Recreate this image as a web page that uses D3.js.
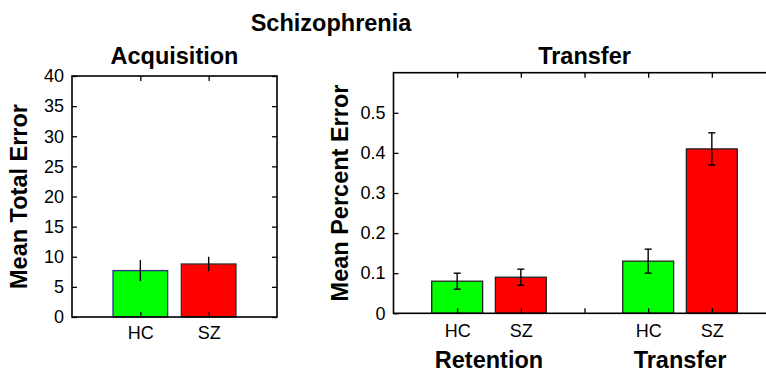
<!DOCTYPE html>
<html>
<head>
<meta charset="utf-8">
<script src="https://cdn.jsdelivr.net/npm/d3@7"></script>
<style>
  body { margin: 0; background: #fff; }
  svg { display: block; font-family: Arial, "Liberation Sans", sans-serif; }
  .tick text { font-size: 18px; fill: #000; }
  .tick line { stroke: #000; stroke-width: 1.3; }
  .lbl { font-weight: bold; font-size: 23.5px; fill: #000; }
</style>
</head>
<body>
<svg id="chart" width="766" height="372"></svg>
<script>
// acquisition panel
const acqGroups = ["HC", "SZ"];
const acqMeans = [7.7, 8.8];
const acqErr = [1.75, 1.2];
const acqTicks = [0, 5, 10, 15, 20, 25, 30, 35, 40];

// retention / transfer panel (slot 3 is the empty spacer bar)
const trGroups = ["HC", "SZ", "", "HC", "SZ"];
const trMeans = [0.08, 0.09, 0, 0.13, 0.41];
const trErr = [0.02, 0.02, 0, 0.03, 0.04];
const trTicks = [0, 0.1, 0.2, 0.3, 0.4, 0.5];
const trPhases = ["Retention", "Transfer"];
const trPhasePos = [1.5, 4.5];

const colourOf = g => g === "HC" ? "#00ff00" : "#ff0000";

const svg = d3.select("#chart");

svg.append("text").attr("class", "lbl")
    .attr("x", 331).attr("y", 31)
    .attr("text-anchor", "middle")
    .text("Schizophrenia");

const drawPanel = (parent, opts) => {
    const {left, right, top, bottom, xMax, yMax, groups, means, errs, ticks, title, yLabel, yLabelX, caps, labelPad, tickFmt} = opts;

    const x = d3.scaleLinear().domain([0, xMax]).range([left, right]);
    const y = d3.scaleLinear().domain([0, yMax]).range([bottom, top]);
    const bw = (x(1) - x(0)) * 0.8;
    const g = parent.append("g");

    // bars
    g.selectAll("rect.bar")
        .data(means)
        .join("rect")
            .attr("class", "bar")
            .attr("x", (d, i) => x(i + 1) - bw / 2)
            .attr("y", d => y(d))
            .attr("width", bw)
            .attr("height", d => y(0) - y(d))
            .attr("fill", (d, i) => groups[i] ? colourOf(groups[i]) : "none")
            .attr("stroke", (d, i) => opts.edge ? opts.edge(i) : "#222")
            .attr("stroke-width", (d, i) => groups[i] ? 1.3 : 2.2);

    // error bars
    const eb = g.selectAll("g.err")
        .data(means.map((m, i) => ({m, e: errs[i], i})).filter(d => d.e > 0))
        .join("g").attr("class", "err");
    eb.append("line")
        .attr("x1", d => x(d.i + 1)).attr("x2", d => x(d.i + 1))
        .attr("y1", d => y(d.m + d.e)).attr("y2", d => y(d.m - d.e))
        .attr("stroke", "#000").attr("stroke-width", 1.4);
    if (caps) {
        [1, -1].forEach(s => {
            eb.append("line")
                .attr("x1", d => x(d.i + 1) - 3.5).attr("x2", d => x(d.i + 1) + 3.5)
                .attr("y1", d => y(d.m + s * d.e)).attr("y2", d => y(d.m + s * d.e))
                .attr("stroke", "#000").attr("stroke-width", 1.4);
        });
    }

    // axes
    const pos = groups.map((d, i) => i + 1);
    g.append("g").attr("transform", `translate(${left},0)`)
        .call(d3.axisLeft(y).tickValues(ticks).tickSize(-5).tickPadding(8).tickFormat(tickFmt));
    g.append("g").attr("transform", `translate(${right},0)`)
        .call(d3.axisRight(y).tickValues(ticks).tickSize(-5).tickFormat(""));
    g.append("g").attr("transform", `translate(0,${bottom})`)
        .call(d3.axisBottom(x).tickValues(pos).tickSize(-5).tickPadding(labelPad).tickFormat((d, i) => groups[i]));
    g.append("g").attr("transform", `translate(0,${top})`)
        .call(d3.axisTop(x).tickValues(pos).tickSize(-5).tickFormat(""));
    g.selectAll(".domain").remove();
    g.selectAll(".tick text").attr("font-family", null).attr("font-size", null);

    // frame
    g.append("rect")
        .attr("x", left).attr("y", top)
        .attr("width", right - left).attr("height", bottom - top)
        .attr("fill", "none").attr("stroke", "#000").attr("stroke-width", 1.6);

    g.append("text").attr("class", "lbl")
        .attr("x", (left + right) / 2).attr("y", 64)
        .attr("text-anchor", "middle").text(title);

    g.append("text").attr("class", "lbl")
        .attr("transform", `translate(${yLabelX},${(top + bottom) / 2}) rotate(-90)`)
        .attr("text-anchor", "middle").text(yLabel);

    return x;
};

drawPanel(svg, {
    left: 72, right: 277, top: 76, bottom: 317,
    xMax: 3, yMax: 40,
    groups: acqGroups, means: acqMeans, errs: acqErr, ticks: acqTicks,
    title: "Acquisition", yLabel: "Mean Total Error", yLabelX: 27,
    caps: false, labelPad: 9, tickFmt: d3.format("d"),
    edge: i => i === 0 ? "#2b2b8a" : "#333"
});

const xTr = drawPanel(svg, {
    left: 393.5, right: 775.5, top: 72.7, bottom: 313.3,
    xMax: 6, yMax: 0.6,
    groups: trGroups, means: trMeans, errs: trErr, ticks: trTicks,
    title: "Transfer", yLabel: "Mean Percent Error", yLabelX: 348,
    caps: true, labelPad: 11, tickFmt: d => d === 0 ? "0" : d3.format(".1f")(d)
});

svg.selectAll("text.phase")
    .data(trPhases)
    .join("text")
        .attr("class", "lbl phase")
        .attr("x", (d, i) => xTr(trPhasePos[i]))
        .attr("y", 368)
        .attr("text-anchor", "middle")
        .text(d => d);
</script>
</body>
</html>
